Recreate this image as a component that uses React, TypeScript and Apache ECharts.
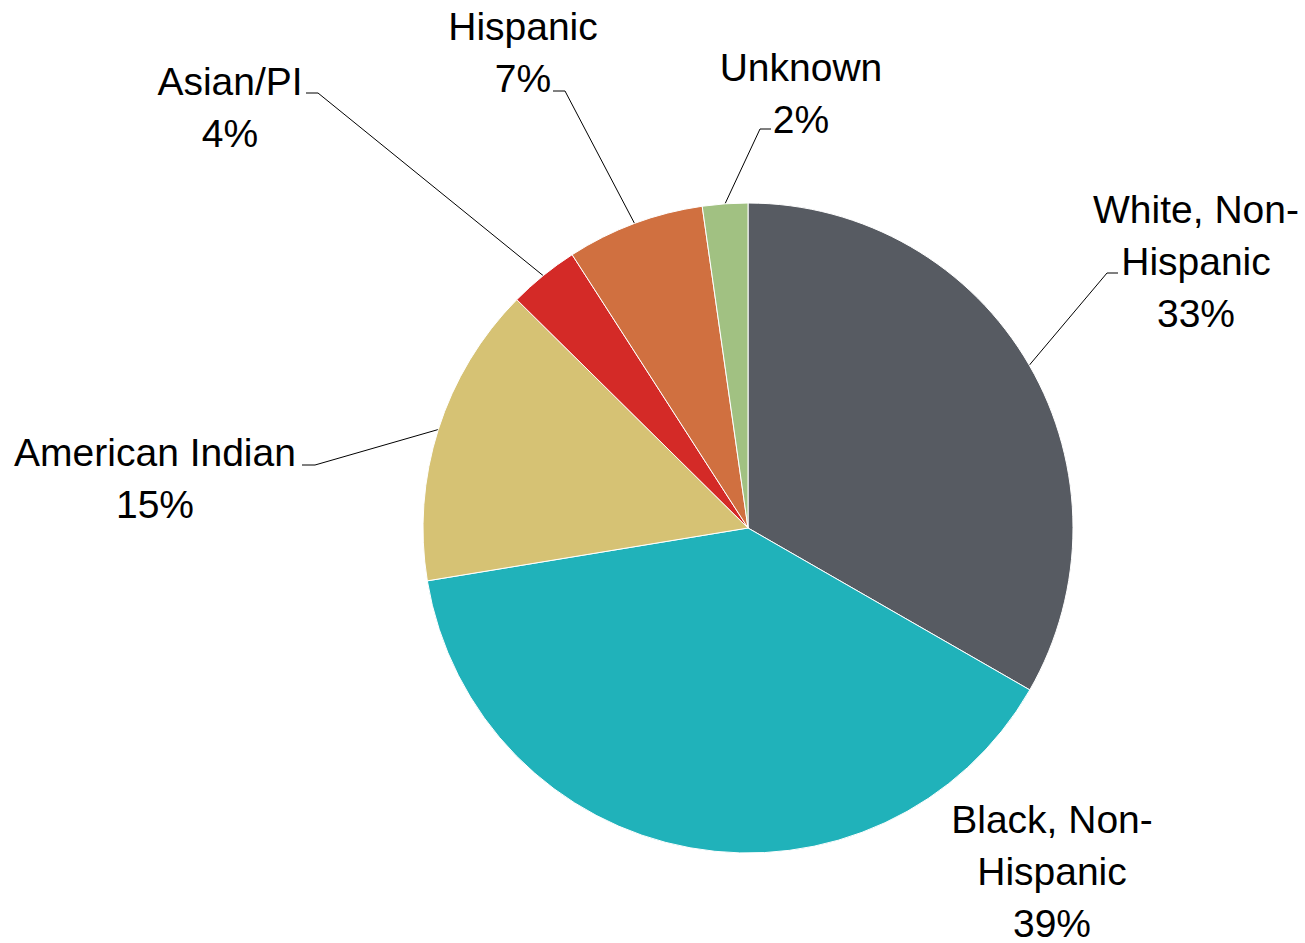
import React, { useEffect, useRef } from "react";
import * as echarts from "echarts";

const categories = [
  "White, Non-Hispanic",
  "Black, Non-Hispanic",
  "American Indian",
  "Asian/PI",
  "Hispanic",
  "Unknown",
];
const labelTexts = [
  "White, Non-\nHispanic",
  "Black, Non-\nHispanic",
  "American Indian",
  "Asian/PI",
  "Hispanic",
  "Unknown",
];
const values = [33.3, 39.1, 15.0, 3.5, 6.85, 2.25];
const colors = ["#575B62", "#20B2BA", "#D6C274", "#D42A27", "#D07040", "#A1C182"];

const CX = 748;
const CY = 528;
const R = 325;
const FONT = "'Liberation Sans', Arial, sans-serif";

// label placement: centre x, top y, leader stub [labelEndX, labelEndY, elbowX]
const labelPos: { x: number; y: number; lead: number[] | null }[] = [
  { x: 1196, y: 183, lead: [1118, 273, 1107] },
  { x: 1052, y: 793, lead: null },
  { x: 155, y: 426, lead: [302, 465, 315] },
  { x: 230, y: 55, lead: [306, 93, 318] },
  { x: 523, y: 0, lead: [553, 91, 565] },
  { x: 801, y: 41, lead: [771, 129, 760] },
];

function edgePoint(i: number): number[] {
  const total = values.reduce((a, b) => a + b, 0);
  let cum = 0;
  for (let k = 0; k < i; k++) cum += values[k];
  const theta = ((cum + values[i] / 2) / total) * Math.PI * 2;
  return [CX + R * Math.sin(theta), CY - R * Math.cos(theta)];
}

export default function App() {
  const ref = useRef<HTMLDivElement>(null);
  useEffect(() => {
    if (!ref.current) return;
    const chart = echarts.init(ref.current, undefined, { renderer: "svg" });
    chart.setOption({
      animation: false,
      backgroundColor: "#ffffff",
      series: [
        {
          type: "pie",
          center: [CX, CY],
          radius: R,
          startAngle: 90,
          clockwise: true,
          avoidLabelOverlap: false,
          itemStyle: { borderColor: "#ffffff", borderWidth: 1 },
          data: categories.map((name, i) => ({
            name,
            value: values[i],
            itemStyle: { color: colors[i] },
            labelLine: { show: !!labelPos[i].lead },
          })),
          label: {
            show: true,
            position: "outside",
            formatter: (p: any) =>
              labelTexts[p.dataIndex] + "\n" + Math.round(p.percent) + "%",
            fontFamily: FONT,
            fontSize: 39,
            lineHeight: 52,
            color: "#000000",
            align: "center",
            width: 420,
            overflow: "none",
          },
          labelLine: {
            show: true,
            length: 10,
            length2: 10,
            lineStyle: { color: "#000000", width: 1 },
          },
          labelLayout: (p: any) => {
            const pos = labelPos[p.dataIndex];
            const out: any = {
              x: pos.x,
              y: pos.y,
              align: "center",
              verticalAlign: "top",
            };
            if (pos.lead) {
              out.labelLinePoints = [
                edgePoint(p.dataIndex),
                [pos.lead[2], pos.lead[1]],
                [pos.lead[0], pos.lead[1]],
              ];
            }
            return out;
          },
        },
      ],
    });
    return () => chart.dispose();
  }, []);
  return (
    <div
      ref={ref}
      style={{ position: "fixed", left: 0, top: 0, width: 1305, height: 943 }}
    />
  );
}
